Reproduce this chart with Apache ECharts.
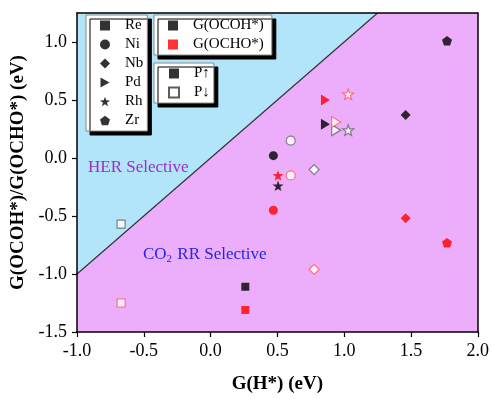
<!DOCTYPE html>
<html>
<head>
<meta charset="utf-8">
<script src="https://cdn.jsdelivr.net/npm/echarts@6/dist/echarts.min.js"></script>
<style>html,body{margin:0;padding:0;background:#fff}#c{width:492px;height:399px}</style>
</head>
<body>
<div id="c"></div>
<script>
// ---- data ----
const metals = ['Re', 'Ni', 'Nb', 'Pd', 'Rh', 'Zr'];
// P-up configuration
const gH_up     = [0.26, 0.47, 1.46, 0.86, 0.505, 1.77];
const ocoh_up   = [-1.11, 0.02, 0.37, 0.29, -0.24, 1.01];
const ocho_up   = [-1.31, -0.45, -0.52, 0.50, -0.15, -0.73];
// P-down configuration (Zr has none)
const gH_down   = [-0.67, 0.60, 0.775, 0.94, 1.03, null];
const ocoh_down = [-0.57, 0.15, -0.10, 0.24, 0.24, null];
const ocho_down = [-1.25, -0.15, -0.96, 0.31, 0.55, null];
// selectivity boundary y = x
const boundaryX = [-1.0, 1.25];
const boundaryY = [-1.0, 1.25];
const xTicks = [-1.0, -0.5, 0.0, 0.5, 1.0, 1.5, 2.0];
const yTicks = [-1.5, -1.0, -0.5, 0.0, 0.5, 1.0];
const adsorbates = ['G(OCOH*)', 'G(OCHO*)'];
const polar = ['P\u2191', 'P\u2193'];

// ---- styles ----
const FONT = '"Liberation Serif", "Times New Roman", serif';
const tri = 'path://M0,0 L9,5 L0,10 Z';
const star = 'path://M0,-10 L2.35,-3.24 L9.51,-3.09 L3.8,1.24 L5.88,8.09 L0,4.5 L-5.88,8.09 L-3.8,1.24 L-9.51,-3.09 L-2.35,-3.24 Z';
const pent = 'path://M0,-10 L9.51,-3.09 L5.88,8.09 L-5.88,8.09 L-9.51,-3.09 Z';
const symbolOf = {Re: 'rect', Ni: 'circle', Nb: 'diamond', Pd: tri, Rh: star, Zr: pent};
const sizeOf = {Re: 8, Ni: 9, Nb: 10, Pd: [10, 11], Rh: 11, Zr: 10};

function pts(xs, ys) {
  const out = [];
  metals.forEach((m, i) => {
    if (xs[i] == null || ys[i] == null) return;
    out.push({value: [xs[i], ys[i]], symbol: symbolOf[m], symbolSize: sizeOf[m], name: m});
  });
  return out;
}
function scatter(name, xs, ys, itemStyle) {
  return {type: 'scatter', name: name, data: pts(xs, ys), itemStyle: itemStyle,
    symbolKeepAspect: true, z: 4, silent: true, emphasis: {disabled: true}};
}

const series = [
  {type: 'line', name: 'boundary', data: boundaryX.map((x, i) => [x, boundaryY[i]]),
   symbol: 'none', lineStyle: {color: '#333', width: 1.2},
   areaStyle: {color: '#b3e5fa', origin: 'end', opacity: 1}, z: 1, silent: true},
  scatter('ocoh_down', gH_down, ocoh_down, {color: '#fff', borderColor: '#666', borderWidth: 1.2}),
  scatter('ocho_down', gH_down, ocho_down, {color: '#fff', borderColor: '#ff5a5a', borderWidth: 1.2}),
  scatter('ocoh_up', gH_up, ocoh_up, {color: '#000'}),
  scatter('ocho_up', gH_up, ocho_up, {color: '#ff0000'})
];
// legend-only series
metals.forEach(m => series.push({type: 'scatter', name: m, data: [], symbol: symbolOf[m], itemStyle: {color: '#000'}}));
series.push({type: 'scatter', name: adsorbates[0], data: [], symbol: 'rect', itemStyle: {color: '#000'}});
series.push({type: 'scatter', name: adsorbates[1], data: [], symbol: 'rect', itemStyle: {color: '#ff0000'}});
series.push({type: 'scatter', name: polar[0], data: [], symbol: 'rect', itemStyle: {color: '#000'}});
series.push({type: 'scatter', name: polar[1], data: [], symbol: 'rect', itemStyle: {color: '#fff', borderColor: '#333', borderWidth: 1}});

const legendBase = {
  orient: 'vertical', selectedMode: false, itemWidth: 10, itemHeight: 10, itemGap: 4,
  padding: [3, 4, 3, 14], backgroundColor: '#fff', borderColor: '#888', borderWidth: 1,
  shadowColor: '#000', shadowOffsetX: 4, shadowOffsetY: 4, shadowBlur: 0,
  textStyle: {fontFamily: FONT, fontSize: 15, color: '#000', padding: [0, 0, 0, 10]},
  symbolKeepAspect: true
};

const axisFont = {fontFamily: FONT, fontSize: 18, color: '#000'};
const option = {
  animation: false,
  backgroundColor: '#fff',
  grid: {left: 77, right: 13, top: 13, bottom: 63, show: true, backgroundColor: '#ecaefa', borderWidth: 0},
  xAxis: [{
    type: 'value', min: -1, max: 2, interval: 0.5, z: 6,
    axisLine: {onZero: false, lineStyle: {color: '#000', width: 1.5}},
    axisTick: {show: true, length: 5, lineStyle: {color: '#000', width: 1.2}, customValues: xTicks},
    axisLabel: Object.assign({margin: 10, customValues: xTicks, formatter: v => v.toFixed(1)}, axisFont),
    splitLine: {show: false},
    name: 'G(H*) (eV)', nameLocation: 'middle', nameGap: 43,
    nameTextStyle: {fontFamily: FONT, fontSize: 19, fontWeight: 'bold', color: '#000'}
  }, {
    type: 'value', min: -1, max: 2, position: 'top', z: 6,
    axisLine: {show: true, onZero: false, lineStyle: {color: '#000', width: 1.5}},
    axisTick: {show: false}, axisLabel: {show: false}, splitLine: {show: false}
  }],
  yAxis: [{
    type: 'value', min: -1.5, max: 1.25, interval: 0.5, z: 6,
    axisLine: {onZero: false, lineStyle: {color: '#000', width: 1.5}},
    axisTick: {show: true, length: 5, lineStyle: {color: '#000', width: 1.2}, customValues: yTicks},
    axisLabel: Object.assign({margin: 10, customValues: yTicks, formatter: v => v.toFixed(1)}, axisFont),
    splitLine: {show: false},
    name: 'G(OCOH*)/G(OCHO*) (eV)', nameLocation: 'middle', nameGap: 45,
    nameTextStyle: {fontFamily: FONT, fontSize: 19, fontWeight: 'bold', color: '#000'}
  }, {
    type: 'value', min: -1.5, max: 1.25, position: 'right', z: 6,
    axisLine: {show: true, onZero: false, lineStyle: {color: '#000', width: 1.5}},
    axisTick: {show: false}, axisLabel: {show: false}, splitLine: {show: false}
  }],
  legend: [
    Object.assign({}, legendBase, {left: 86, top: 15, data: metals}),
    Object.assign({}, legendBase, {left: 154, top: 15, data: adsorbates, padding: [3, 8, 3, 14]}),
    Object.assign({}, legendBase, {left: 154, top: 63, data: polar})
  ],
  graphic: [
    {type: 'text', left: 88, top: 159, z: 10, silent: true,
     style: {text: 'HER Selective', font: '17px ' + FONT, fill: '#9b2fc9'}},
    {type: 'text', left: 143, top: 246, z: 10, silent: true,
     style: {text: 'CO{s|2} RR Selective', font: '17px ' + FONT, fill: '#2424e6',
       rich: {s: {fontSize: 11, fontFamily: FONT, fill: '#2424e6', padding: [10, 1, 0, 0]}}}}
  ],
  series: series
};
const chart = echarts.init(document.getElementById('c'), null, {renderer: 'canvas'});
chart.setOption(option);
</script>
</body>
</html>
